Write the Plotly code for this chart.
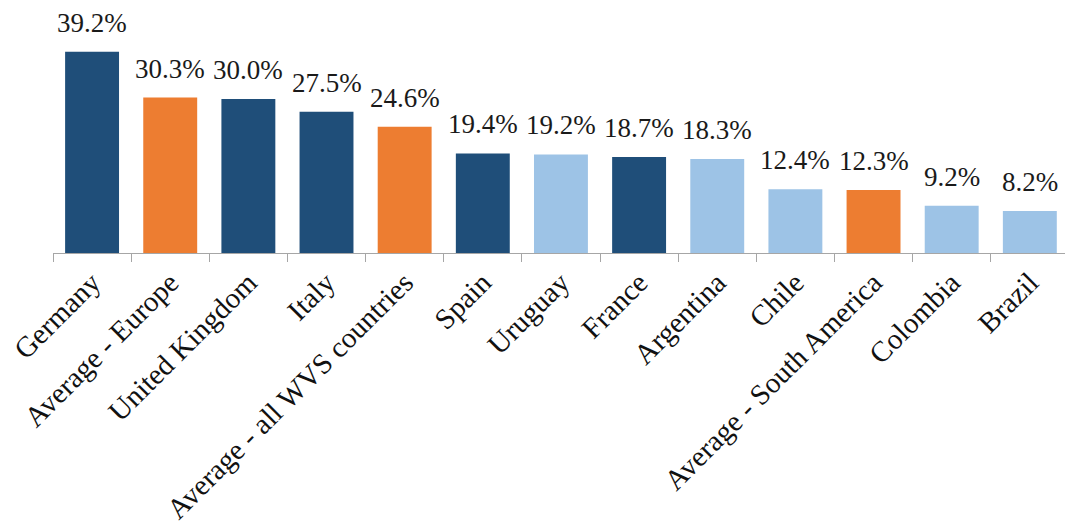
import plotly.graph_objects as go

categories = [
    "Germany", "Average - Europe", "United Kingdom", "Italy",
    "Average - all WVS countries", "Spain", "Uruguay", "France",
    "Argentina", "Chile", "Average - South America", "Colombia", "Brazil",
]
values = [39.2, 30.3, 30.0, 27.5, 24.6, 19.4, 19.2, 18.7, 18.3, 12.4, 12.3, 9.2, 8.2]
groups = ["europe", "average", "europe", "europe", "average", "europe",
          "south", "europe", "south", "south", "average", "south", "south"]

palette = {"europe": "#1F4E79", "average": "#ED7D31", "south": "#9DC3E6"}
font_family = "Palatino Linotype, Book Antiqua, Palatino, Liberation Serif, serif"

fig = go.Figure(
    go.Bar(
        x=categories,
        y=values,
        marker=dict(color=[palette[g] for g in groups], line=dict(width=0)),
        cliponaxis=False,
    )
)

# value labels sitting a little above each bar
for cat, val in zip(categories, values):
    fig.add_annotation(
        x=cat,
        y=val,
        text=f"{val:.1f}%",
        showarrow=False,
        xanchor="center",
        yanchor="bottom",
        yshift=12,
        font=dict(family=font_family, size=27, color="#1a1a1a"),
    )

fig.update_layout(
    width=1065,
    height=527,
    margin=dict(l=53, r=0, t=0, b=274),
    paper_bgcolor="white",
    plot_bgcolor="white",
    bargap=0.31,
    showlegend=False,
    xaxis=dict(
        range=[-0.5, 12.45],
        tickangle=-45,
        tickson="boundaries",
        ticks="outside",
        ticklen=8,
        tickcolor="#a6a6a6",
        showline=True,
        linecolor="#a6a6a6",
        linewidth=1,
        showgrid=False,
        tickfont=dict(family=font_family, size=29, color="#111111"),
    ),
    yaxis=dict(
        range=[0, 49.3],
        visible=False,
        showgrid=False,
        zeroline=False,
    ),
)

fig.write_html("out.html")
